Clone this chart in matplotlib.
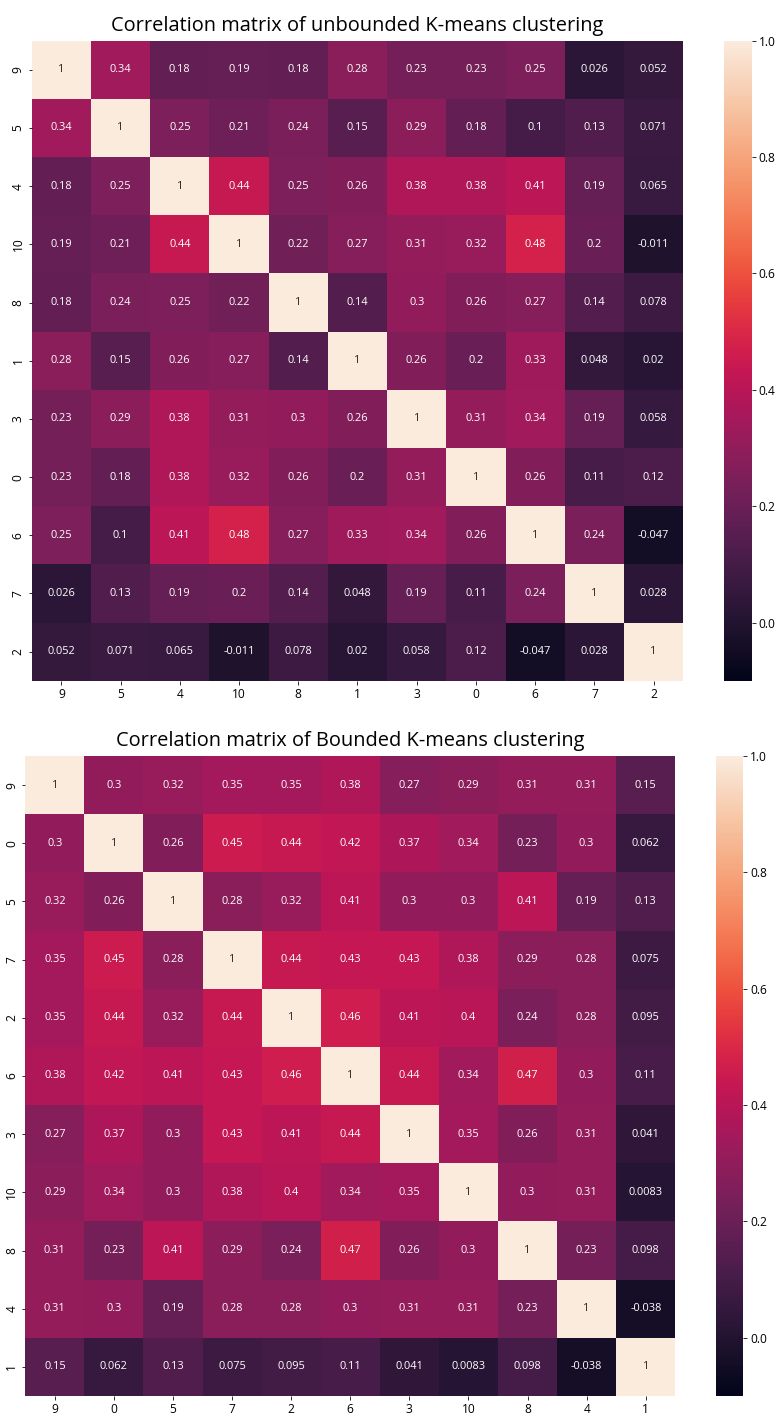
import numpy as np
import pandas as pd
import matplotlib
matplotlib.use("Agg")
import matplotlib.pyplot as plt
import seaborn as sns

plt.rcParams['font.family'] = ['Open Sans', 'DejaVu Sans']

# cluster order on both axes
unbounded_labels = ['9', '5', '4', '10', '8', '1', '3', '0', '6', '7', '2']
bounded_labels = ['9', '0', '5', '7', '2', '6', '3', '10', '8', '4', '1']

# correlation matrix, unbounded K-means (rows in label order)
unbounded_corr = [
    [1, 0.34, 0.18, 0.19, 0.18, 0.28, 0.23, 0.23, 0.25, 0.026, 0.052],
    [0.34, 1, 0.25, 0.21, 0.24, 0.15, 0.29, 0.18, 0.1, 0.13, 0.071],
    [0.18, 0.25, 1, 0.44, 0.25, 0.26, 0.38, 0.38, 0.41, 0.19, 0.065],
    [0.19, 0.21, 0.44, 1, 0.22, 0.27, 0.31, 0.32, 0.48, 0.2, -0.011],
    [0.18, 0.24, 0.25, 0.22, 1, 0.14, 0.3, 0.26, 0.27, 0.14, 0.078],
    [0.28, 0.15, 0.26, 0.27, 0.14, 1, 0.26, 0.2, 0.33, 0.048, 0.02],
    [0.23, 0.29, 0.38, 0.31, 0.3, 0.26, 1, 0.31, 0.34, 0.19, 0.058],
    [0.23, 0.18, 0.38, 0.32, 0.26, 0.2, 0.31, 1, 0.26, 0.11, 0.12],
    [0.25, 0.1, 0.41, 0.48, 0.27, 0.33, 0.34, 0.26, 1, 0.24, -0.047],
    [0.026, 0.13, 0.19, 0.2, 0.14, 0.048, 0.19, 0.11, 0.24, 1, 0.028],
    [0.052, 0.071, 0.065, -0.011, 0.078, 0.02, 0.058, 0.12, -0.047, 0.028, 1],
]

# correlation matrix, bounded K-means
bounded_corr = [
    [1, 0.3, 0.32, 0.35, 0.35, 0.38, 0.27, 0.29, 0.31, 0.31, 0.15],
    [0.3, 1, 0.26, 0.45, 0.44, 0.42, 0.37, 0.34, 0.23, 0.3, 0.062],
    [0.32, 0.26, 1, 0.28, 0.32, 0.41, 0.3, 0.3, 0.41, 0.19, 0.13],
    [0.35, 0.45, 0.28, 1, 0.44, 0.43, 0.43, 0.38, 0.29, 0.28, 0.075],
    [0.35, 0.44, 0.32, 0.44, 1, 0.46, 0.41, 0.4, 0.24, 0.28, 0.095],
    [0.38, 0.42, 0.41, 0.43, 0.46, 1, 0.44, 0.34, 0.47, 0.3, 0.11],
    [0.27, 0.37, 0.3, 0.43, 0.41, 0.44, 1, 0.35, 0.26, 0.31, 0.041],
    [0.29, 0.34, 0.3, 0.38, 0.4, 0.34, 0.35, 1, 0.3, 0.31, 0.0083],
    [0.31, 0.23, 0.41, 0.29, 0.24, 0.47, 0.26, 0.3, 1, 0.23, 0.098],
    [0.31, 0.3, 0.19, 0.28, 0.28, 0.3, 0.31, 0.31, 0.23, 1, -0.038],
    [0.15, 0.062, 0.13, 0.075, 0.095, 0.11, 0.041, 0.0083, 0.098, -0.038, 1],
]

W, H = 781, 1418
fig = plt.figure(figsize=(W / 72, H / 72), dpi=72)


def px_axes(x0, y0, x1, y1):
    # axes from pixel box (top-left origin)
    return fig.add_axes([x0 / W, 1 - y1 / H, (x1 - x0) / W, (y1 - y0) / H])


panels = [
    (unbounded_corr, unbounded_labels, "Correlation matrix of unbounded K-means clustering",
     (31.7, 40.7, 683.3, 680.7), (724.3, 40.7, 751.7, 680.7)),
    (bounded_corr, bounded_labels, "Correlation matrix of Bounded K-means clustering",
     (25.3, 756, 675.3, 1396), (716, 756, 743.3, 1396)),
]

for corr, labels, title, box, cbox in panels:
    df = pd.DataFrame(corr, index=labels, columns=labels)
    ax = px_axes(*box)
    cax = px_axes(*cbox)
    sns.heatmap(df, annot=True, cmap="rocket", vmin=-0.1, vmax=1.0,
                ax=ax, cbar_ax=cax, annot_kws={"fontsize": 11})
    ax.set_title(title, fontsize=20, pad=10)
    ax.tick_params(labelsize=12)
    ax.set_yticklabels(labels, rotation=90, va="center")
    ax.set_xticklabels(labels, rotation=0)
    cax.tick_params(labelsize=12)
    cax.set_yticks([0.0, 0.2, 0.4, 0.6, 0.8, 1.0])

fig.savefig("out.png", dpi=72)
